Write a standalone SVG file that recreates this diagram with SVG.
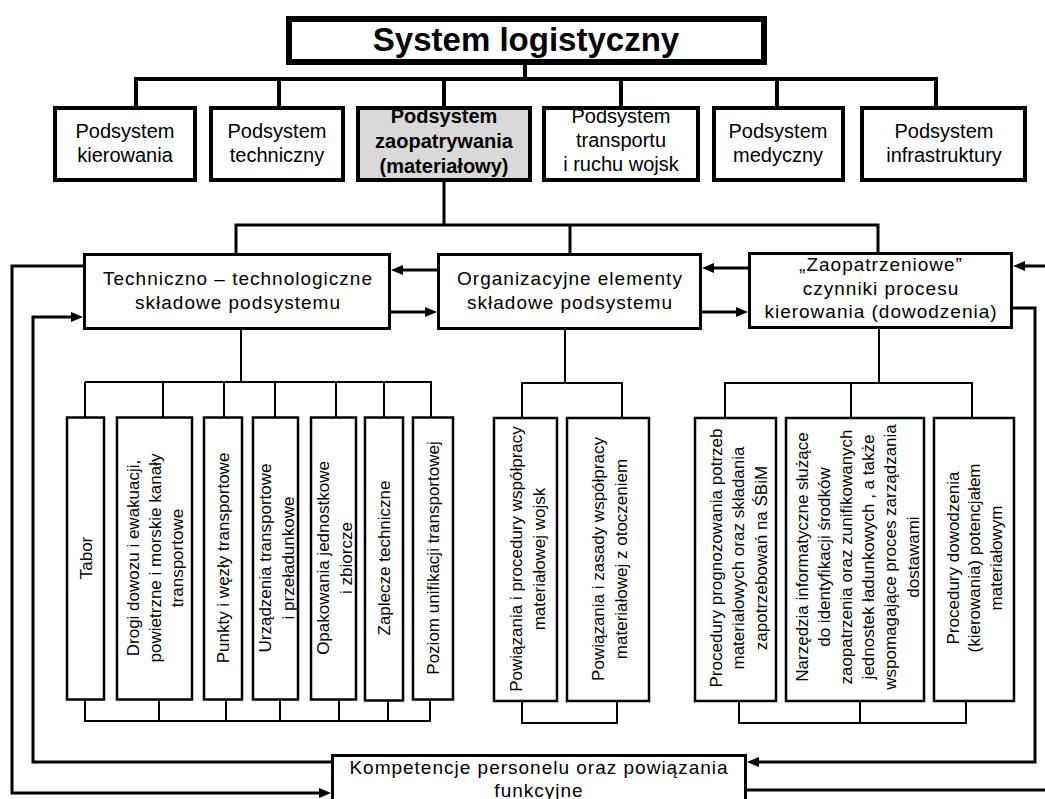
<svg xmlns="http://www.w3.org/2000/svg" width="1045" height="799" viewBox="0 0 1045 799">
<style>
.t{font-family:"Liberation Sans",Arial,Helvetica,sans-serif;fill:#000}
.title{font-size:33px;font-weight:bold;text-anchor:middle}
.sub{font-size:20px;text-anchor:middle}
.subb{font-size:20px;font-weight:bold;text-anchor:middle}
.mid{font-size:19px;letter-spacing:1px;text-anchor:middle}
.v{font-size:17px;text-anchor:middle}
.b6{fill:#fff;stroke:#000;stroke-width:6}
.b4{fill:#fff;stroke:#000;stroke-width:4}
.b3{fill:#fff;stroke:#000;stroke-width:3}
.b2{fill:#fff;stroke:#000;stroke-width:2.5}
.gray{fill:#d9d9d9}
.l4{fill:none;stroke:#000;stroke-width:4}
.l3{fill:none;stroke:#000;stroke-width:3}
.l2{fill:none;stroke:#000;stroke-width:2}
.ar{fill:none;stroke:#000;stroke-width:3;marker-end:url(#ah)}
</style>
<defs>
<marker id="ah" markerUnits="userSpaceOnUse" markerWidth="12" markerHeight="10" refX="0" refY="5" orient="auto">
<path d="M0,0 L12,5 L0,10 z" fill="#000"/>
</marker>
</defs>
<rect width="1045" height="799" fill="#fff"/>

<g id="connectors">
<path class="l4" d="M525,64 V79 M134,79 H938 M136,79 V107 M279,79 V107 M444,79 V107 M621,79 V107 M777,79 V107 M936,79 V107"/>
<path class="l3" d="M444,182 V225 M234.5,225 H879.5 M236,225 V254 M570,225 V254 M878,225 V254"/>
<path class="l2" d="M241,330 V382 M85,382 H432 M85,382 V417 M163,382 V417 M224,382 V417 M275,382 V417 M336,382 V417 M384,382 V417 M431,382 V417"/>
<path class="l2" d="M85,700 V721 M159,700 V721 M226,700 V721 M280,700 V721 M339,700 V721 M388,700 V721 M430,700 V721 M84,721 H431"/>
<path class="l2" d="M565,330 V383 M521,383 H623 M522,383 V417 M622,383 V417"/>
<path class="l2" d="M522,701 V723 M617,701 V723 M521,723 H618"/>
<path class="l2" d="M879,329 V383 M724,383 H973 M725,383 V417 M851,383 V417 M972,383 V417"/>
<path class="l2" d="M739,701 V723 M860,701 V723 M966,701 V723 M738,723 H967"/>
<path class="ar" d="M437,270 H403"/>
<path class="ar" d="M391,312 H425"/>
<path class="ar" d="M748,268 H714"/>
<path class="ar" d="M702,312 H736"/>
<path class="ar" d="M84,266 H12 V793 H319"/>
<path class="ar" d="M332,762 H33 V317 H71"/>
<path class="ar" d="M1012,308 H1035 V762 H759"/>
<path class="ar" d="M746,790 H1060 V266 H1025"/>
</g>

<g id="system">
<rect class="b6" x="289" y="19" width="475" height="43"/>
<text class="t title" x="526" y="51">System logistyczny</text>
</g>

<g id="kierowania">
<rect class="b4" x="55" y="108" width="140" height="72"/>
<text class="t sub"><tspan x="125" y="138">Podsystem</tspan><tspan x="125" y="162">kierowania</tspan></text>
</g>
<g id="techniczny">
<rect class="b4" x="211" y="108" width="132" height="72"/>
<text class="t sub"><tspan x="277" y="138">Podsystem</tspan><tspan x="277" y="162">techniczny</tspan></text>
</g>
<g id="zaopatrywania">
<rect class="b4 gray" x="358" y="108" width="172" height="72"/>
<text class="t subb"><tspan x="444" y="123">Podsystem</tspan><tspan x="444" y="148">zaopatrywania</tspan><tspan x="444" y="173">(materiałowy)</tspan></text>
</g>
<g id="transportu">
<rect class="b4" x="544" y="108" width="154" height="72"/>
<text class="t sub"><tspan x="621" y="123">Podsystem</tspan><tspan x="621" y="147">transportu</tspan><tspan x="621" y="171">i ruchu wojsk</tspan></text>
</g>
<g id="medyczny">
<rect class="b4" x="714" y="108" width="129" height="72"/>
<text class="t sub"><tspan x="778" y="138">Podsystem</tspan><tspan x="778" y="162">medyczny</tspan></text>
</g>
<g id="infrastruktury">
<rect class="b4" x="862" y="108" width="163" height="72"/>
<text class="t sub"><tspan x="944" y="138">Podsystem</tspan><tspan x="944" y="162">infrastruktury</tspan></text>
</g>

<g id="techniczno">
<rect class="b3" x="84.5" y="254.5" width="305" height="74"/>
<text class="t mid"><tspan x="238" y="285">Techniczno – technologiczne</tspan><tspan x="238" y="309">składowe podsystemu</tspan></text>
</g>
<g id="organizacyjne">
<rect class="b3" x="438.5" y="254.5" width="262" height="74"/>
<text class="t mid"><tspan x="570" y="285">Organizacyjne elementy</tspan><tspan x="570" y="309">składowe podsystemu</tspan></text>
</g>
<g id="zaopatrzeniowe">
<rect class="b3" x="749.5" y="253.5" width="262" height="74"/>
<text class="t mid"><tspan x="881" y="271">„Zaopatrzeniowe”</tspan><tspan x="881" y="295">czynniki procesu</tspan><tspan x="881" y="318">kierowania (dowodzenia)</tspan></text>
</g>

<g id="tabor">
<rect class="b2" x="67" y="417.5" width="37" height="282"/>
<text class="t v" transform="translate(85.5,558) rotate(-90)"><tspan x="0" y="6">Tabor</tspan></text>
</g>
<g id="drogi">
<rect class="b2" x="117" y="417.5" width="75" height="282"/>
<text class="t v" transform="translate(155,558) rotate(-90)"><tspan x="0" y="-16">Drogi dowozu i ewakuacji,</tspan><tspan x="0" y="6">powietrzne i morskie kanały</tspan><tspan x="0" y="28">transportowe</tspan></text>
</g>
<g id="punkty">
<rect class="b2" x="204" y="417.5" width="38" height="282"/>
<text class="t v" transform="translate(223,558) rotate(-90)"><tspan x="0" y="6">Punkty i węzły transportowe</tspan></text>
</g>
<g id="urzadzenia">
<rect class="b2" x="253" y="417.5" width="45" height="282"/>
<text class="t v" transform="translate(276,558) rotate(-90)"><tspan x="0" y="-5.5">Urządzenia transportowe</tspan><tspan x="0" y="17.5">i przeładunkowe</tspan></text>
</g>
<g id="opakowania">
<rect class="b2" x="311" y="417.5" width="45" height="282"/>
<text class="t v" transform="translate(334,558) rotate(-90)"><tspan x="0" y="-5.5">Opakowania jednostkowe</tspan><tspan x="0" y="17.5">i zbiorcze</tspan></text>
</g>
<g id="zaplecze">
<rect class="b2" x="365" y="417.5" width="38" height="283"/>
<text class="t v" transform="translate(384,558) rotate(-90)"><tspan x="0" y="6">Zaplecze techniczne</tspan></text>
</g>
<g id="poziom">
<rect class="b2" x="413" y="417.5" width="40" height="282"/>
<text class="t v" transform="translate(433,558) rotate(-90)"><tspan x="0" y="6">Poziom unifikacji transportowej</tspan></text>
</g>

<g id="powiazania1">
<rect class="b2" x="494" y="418" width="63" height="283"/>
<text class="t v" transform="translate(527,559) rotate(-90)"><tspan x="0" y="-5.5">Powiązania i procedury współpracy</tspan><tspan x="0" y="17.5">materiałowej wojsk</tspan></text>
</g>
<g id="powiazania2">
<rect class="b2" x="567" y="418" width="82" height="283"/>
<text class="t v" transform="translate(609,559) rotate(-90)"><tspan x="0" y="-5.5">Powiązania i zasady współpracy</tspan><tspan x="0" y="17.5">materiałowej z otoczeniem</tspan></text>
</g>

<g id="procedury1">
<rect class="b2" x="695" y="418" width="81" height="283"/>
<text class="t v" transform="translate(738,558) rotate(-90)"><tspan x="0" y="-16.5">Procedury prognozowania potrzeb</tspan><tspan x="0" y="6">materiałowych oraz składania</tspan><tspan x="0" y="28.5">zapotrzebowań na ŚBiM</tspan></text>
</g>
<g id="narzedzia">
<rect class="b2" x="786" y="418" width="138" height="283"/>
<text class="t v" transform="translate(857,557) rotate(-90)"><tspan x="0" y="-49.5">Narzędzia informatyczne służące</tspan><tspan x="0" y="-27.3">do identyfikacji środków</tspan><tspan x="0" y="-5.1">zaopatrzenia oraz zunifikowanych</tspan><tspan x="0" y="17.1">jednostek ładunkowych , a także</tspan><tspan x="0" y="39.3">wspomagające proces zarządzania</tspan><tspan x="0" y="61.5">dostawami</tspan></text>
</g>
<g id="procedury2">
<rect class="b2" x="934" y="418" width="80" height="283"/>
<text class="t v" transform="translate(974,558) rotate(-90)"><tspan x="0" y="-15.5">Procedury dowodzenia</tspan><tspan x="0" y="6">(kierowania) potencjałem</tspan><tspan x="0" y="27.5">materiałowym</tspan></text>
</g>

<g id="kompetencje">
<rect class="b3" x="332.5" y="755.5" width="413" height="60"/>
<text class="t mid"><tspan x="539" y="774">Kompetencje personelu oraz powiązania</tspan><tspan x="539" y="797">funkcyjne</tspan></text>
</g>
</svg>
